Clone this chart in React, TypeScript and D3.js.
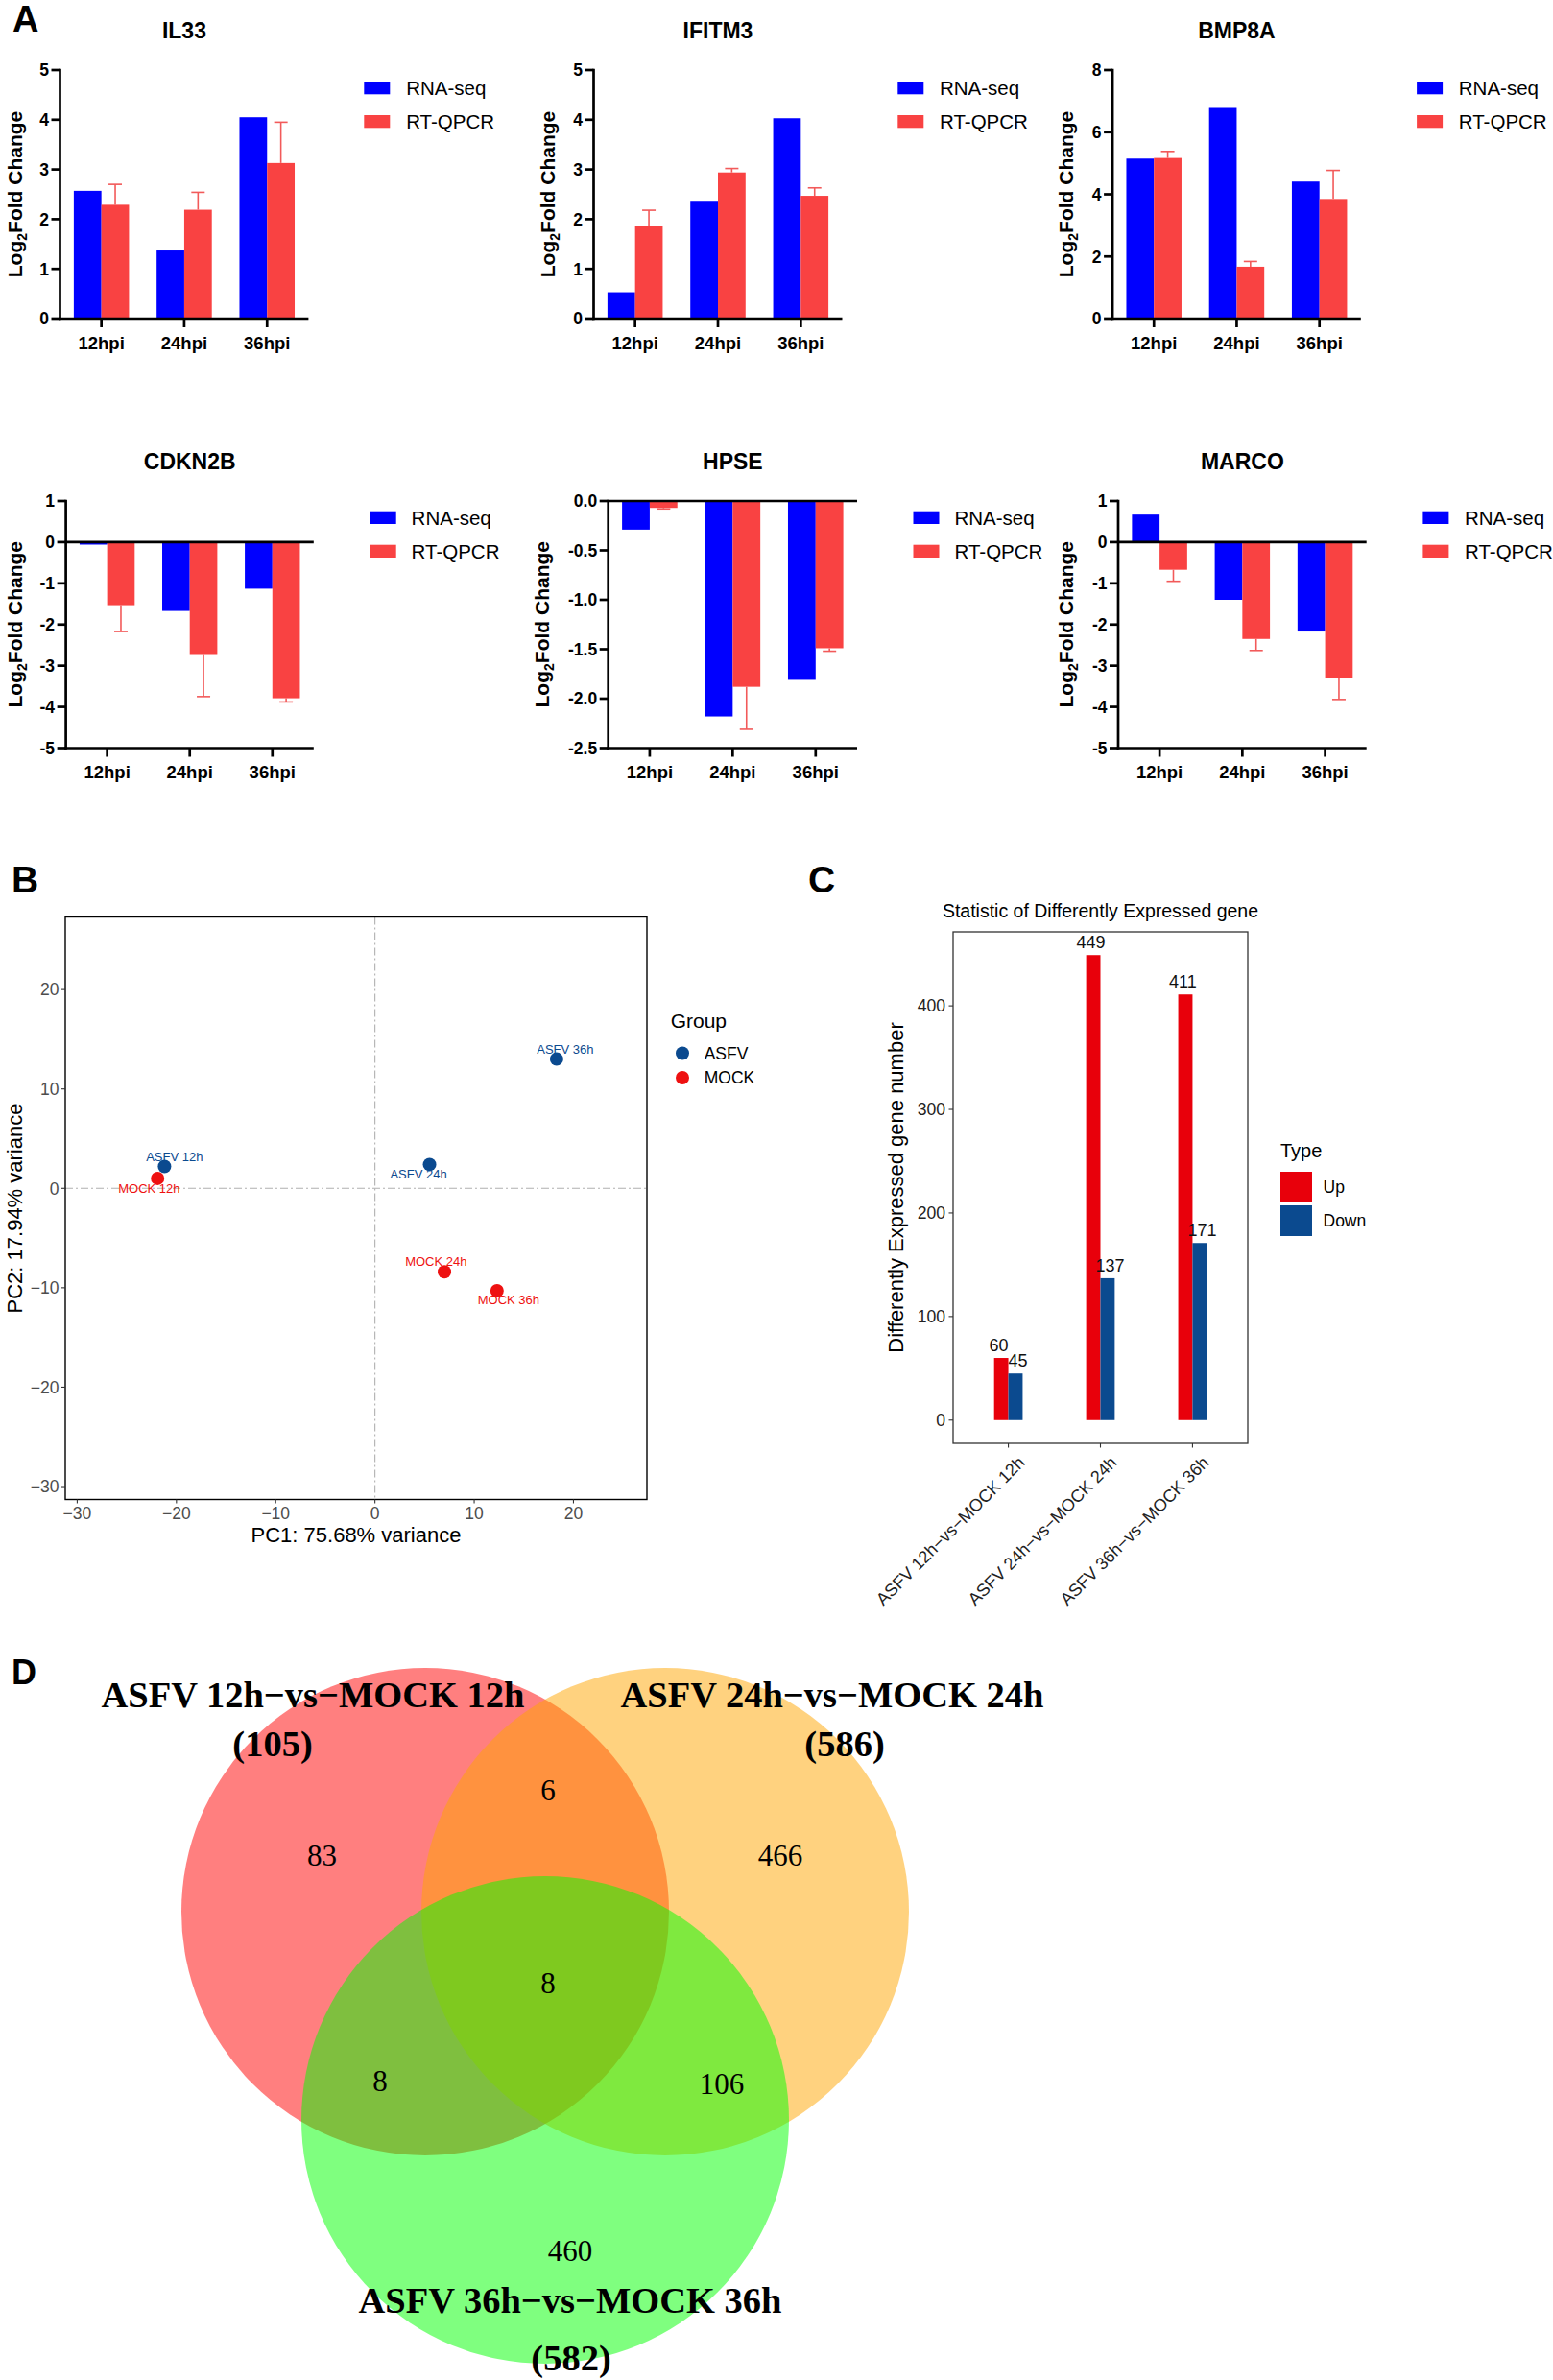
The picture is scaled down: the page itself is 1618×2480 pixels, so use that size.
import React from "react";
import * as d3 from "d3";

const SANS = "'Liberation Sans', Arial, Helvetica, sans-serif";
const SERIF = "'Liberation Serif', 'Times New Roman', serif";

// ---------------- Panel A data ----------------
const timepoints = ["12hpi", "24hpi", "36hpi"];
const methods = ["RNA-seq", "RT-QPCR"];

const il33RnaSeq = [2.57, 1.37, 4.05];
const il33Qpcr = [2.29, 2.19, 3.13];
const il33QpcrErr = [0.41, 0.35, 0.82];

const ifitm3RnaSeq = [0.53, 2.37, 4.03];
const ifitm3Qpcr = [1.86, 2.94, 2.47];
const ifitm3QpcrErr = [0.32, 0.08, 0.16];

const bmp8aRnaSeq = [5.15, 6.78, 4.41];
const bmp8aQpcr = [5.17, 1.67, 3.85];
const bmp8aQpcrErr = [0.21, 0.17, 0.92];

const cdkn2bRnaSeq = [-0.06, -1.67, -1.13];
const cdkn2bQpcr = [-1.53, -2.74, -3.79];
const cdkn2bQpcrErr = [0.64, 1.01, 0.09];

const hpseRnaSeq = [-0.29, -2.18, -1.81];
const hpseQpcr = [-0.07, -1.88, -1.49];
const hpseQpcrErr = [0.01, 0.43, 0.03];

const marcoRnaSeq = [0.67, -1.4, -2.17];
const marcoQpcr = [-0.67, -2.35, -3.31];
const marcoQpcrErr = [0.28, 0.28, 0.51];

const yDomainUp5 = [0, 5];
const yDomainUp8 = [0, 8];
const yDomainNeg5 = [-5, 1];
const yDomainHpse = [-2.5, 0];
const yTicksUp5 = [0, 1, 2, 3, 4, 5];
const yTicksUp8 = [0, 2, 4, 6, 8];
const yTicksNeg5 = [-5, -4, -3, -2, -1, 0, 1];
const yTicksHpse = [-2.5, -2, -1.5, -1, -0.5, 0];

const geneSeries = [
  { gene: "IL33", rna: il33RnaSeq, qpcr: il33Qpcr, err: il33QpcrErr, domain: yDomainUp5, ticks: yTicksUp5, decimals: 0 },
  { gene: "IFITM3", rna: ifitm3RnaSeq, qpcr: ifitm3Qpcr, err: ifitm3QpcrErr, domain: yDomainUp5, ticks: yTicksUp5, decimals: 0 },
  { gene: "BMP8A", rna: bmp8aRnaSeq, qpcr: bmp8aQpcr, err: bmp8aQpcrErr, domain: yDomainUp8, ticks: yTicksUp8, decimals: 0 },
  { gene: "CDKN2B", rna: cdkn2bRnaSeq, qpcr: cdkn2bQpcr, err: cdkn2bQpcrErr, domain: yDomainNeg5, ticks: yTicksNeg5, decimals: 0 },
  { gene: "HPSE", rna: hpseRnaSeq, qpcr: hpseQpcr, err: hpseQpcrErr, domain: yDomainHpse, ticks: yTicksHpse, decimals: 1 },
  { gene: "MARCO", rna: marcoRnaSeq, qpcr: marcoQpcr, err: marcoQpcrErr, domain: yDomainNeg5, ticks: yTicksNeg5, decimals: 0 },
];

// layout (positions only)
const geneLayout = [
  { x0: 62.5, x1: 321.4, yTop: 73, yBot: 332, ylabX: 23, legX: 379.3, legTextX: 423.2, legY: 85 },
  { x0: 618.5, x1: 877.5, yTop: 73, yBot: 332, ylabX: 577.5, legX: 935.3, legTextX: 979, legY: 85 },
  { x0: 1159.1, x1: 1417.8, yTop: 73, yBot: 332, ylabX: 1118, legX: 1476.1, legTextX: 1519.8, legY: 85 },
  { x0: 68.6, x1: 326.8, yTop: 522, yBot: 779.5, ylabX: 23, legX: 385.7, legTextX: 428.6, legY: 532.7 },
  { x0: 633.7, x1: 893, yTop: 522, yBot: 779.5, ylabX: 572, legX: 951.5, legTextX: 994.5, legY: 532.7 },
  { x0: 1165, x1: 1423.7, yTop: 522, yBot: 779.5, ylabX: 1118, legX: 1482.4, legTextX: 1526, legY: 532.7 },
];

const BLUE = "#0000FF";
const RED = "#F94242";
const ERR = "#F25A5A";

// ---------------- Panel B data ----------------
const pcaSamples = ["ASFV 12h", "MOCK 12h", "ASFV 24h", "MOCK 24h", "ASFV 36h", "MOCK 36h"];
const pcaGroups = ["ASFV", "MOCK", "ASFV", "MOCK", "ASFV", "MOCK"];
const pc1Values = [-21.2, -21.9, 5.5, 7.0, 18.3, 12.3];
const pc2Values = [2.2, 1.0, 2.4, -8.4, 13.0, -10.3];
const pcaGroupNames = ["ASFV", "MOCK"];
const pcaXDomain = [-31.2, 27.4];
const pcaYDomain = [-31.3, 27.3];
const pcaTicks = [-30, -20, -10, 0, 10, 20];
const pcaLabelOffsets = [
  [10.4, -5.3],
  [-8.8, 15.5],
  [-11.5, 15],
  [-8.7, -6.3],
  [9, -6],
  [12, 14.5],
];
const ASFV_COL = "#0B4A8F";
const MOCK_COL = "#EE1111";

// ---------------- Panel C data ----------------
const degComparisons = ["ASFV 12h\u2212vs\u2212MOCK 12h", "ASFV 24h\u2212vs\u2212MOCK 24h", "ASFV 36h\u2212vs\u2212MOCK 36h"];
const degTypes = ["Up", "Down"];
const degUp = [60, 449, 411];
const degDown = [45, 137, 171];
const degTicks = [0, 100, 200, 300, 400];
const UP_COL = "#E8000B";
const DOWN_COL = "#0B4A8F";

// ---------------- Panel D data ----------------
const vennSetNames = ["ASFV 12h\u2212vs\u2212MOCK 12h", "ASFV 24h\u2212vs\u2212MOCK 24h", "ASFV 36h\u2212vs\u2212MOCK 36h"];
const vennTotals = [105, 586, 582];
// regions: only12, only24, only36, 12&24, 12&36, 24&36, all
const vennRegionCounts = [83, 466, 460, 6, 8, 106, 8];
const vennColors = ["#FF0000", "#FFA500", "#00FF00"];

const vennCircles = [
  { cx: 443, cy: 1992 },
  { cx: 693, cy: 1992 },
  { cx: 568, cy: 2209 },
];
const vennR = 254;
const vennRegionPos = [
  [335.6, 1944],
  [813, 1944],
  [594, 2356],
  [571, 1876],
  [396, 2179],
  [752, 2182],
  [571, 2077],
];
const vennTitlePos = [
  { x: 326, y: 1778.5, cx: 284, cy: 1830 },
  { x: 867, y: 1778.5, cx: 880, cy: 1830 },
  { x: 594, y: 2410, cx: 595, cy: 2470 },
];

// ---------------- Components ----------------
function GeneChart({ spec, lay }: any) {
  const { x0, x1, yTop, yBot, ylabX, legX, legTextX, legY } = lay;
  const x = d3.scaleBand().domain(timepoints).range([x0, x1]).paddingInner(0).paddingOuter(0);
  const bw = x.bandwidth();
  const inner = d3.scaleBand().domain(methods).range([bw / 6, bw - bw / 6]);
  const y = d3.scaleLinear().domain(spec.domain).range([yBot, yTop]);
  const y0 = y(0);
  const sw = 2.7;
  const negative = spec.domain[0] < 0;
  const seriesVals = [spec.rna, spec.qpcr];
  const colors = [BLUE, RED];
  const cap = 14;
  return (
    <g>
      <text x={(x0 + x1) / 2} y={yTop - 33} textAnchor="middle" fontFamily={SANS} fontWeight="bold" fontSize={23}>
        {spec.gene}
      </text>
      {seriesVals.map((vals: number[], si: number) =>
        vals.map((v: number, i: number) => {
          const bx = (x(timepoints[i]) as number) + (inner(methods[si]) as number);
          const yv = y(v);
          return (
            <rect
              key={`b${si}-${i}`}
              x={bx}
              y={Math.min(yv, y0)}
              width={inner.bandwidth()}
              height={Math.abs(yv - y0)}
              fill={colors[si]}
            />
          );
        })
      )}
      {spec.qpcr.map((v: number, i: number) => {
        const cx = (x(timepoints[i]) as number) + (inner(methods[1]) as number) + inner.bandwidth() / 2;
        const sign = v >= 0 ? 1 : -1;
        const ye = y(v + sign * spec.err[i]);
        return (
          <g key={`e${i}`} stroke={ERR} strokeWidth={1.6}>
            <line x1={cx} x2={cx} y1={y(v)} y2={ye} />
            <line x1={cx - cap / 2} x2={cx + cap / 2} y1={ye} y2={ye} />
          </g>
        );
      })}
      {/* y axis */}
      <line x1={x0} x2={x0} y1={yTop - sw / 2} y2={yBot + sw / 2} stroke="#000" strokeWidth={sw} />
      {spec.ticks.map((t: number) => (
        <g key={`yt${t}`}>
          <line x1={x0 - 9} x2={x0} y1={y(t)} y2={y(t)} stroke="#000" strokeWidth={sw} />
          <text
            x={x0 - 11.5}
            y={y(t)}
            dy="0.36em"
            textAnchor="end"
            fontFamily={SANS}
            fontWeight="bold"
            fontSize={17.5}
          >
            {t.toFixed(spec.decimals)}
          </text>
        </g>
      ))}
      {/* x axis */}
      <line x1={x0 - sw / 2} x2={x1} y1={yBot} y2={yBot} stroke="#000" strokeWidth={sw} />
      {negative && <line x1={x0} x2={x1} y1={y0} y2={y0} stroke="#000" strokeWidth={sw} />}
      {timepoints.map((tp) => {
        const cx = (x(tp) as number) + bw / 2;
        return (
          <g key={`xt${tp}`}>
            <line x1={cx} x2={cx} y1={yBot} y2={yBot + 9} stroke="#000" strokeWidth={sw} />
            <text x={cx} y={yBot + 31.5} textAnchor="middle" fontFamily={SANS} fontWeight="bold" fontSize={18.5}>
              {tp}
            </text>
          </g>
        );
      })}
      {/* y label */}
      <text
        transform={`translate(${ylabX},${(yTop + yBot) / 2}) rotate(-90)`}
        textAnchor="middle"
        fontFamily={SANS}
        fontWeight="bold"
        fontSize={21}
      >
        Log
        <tspan dy={5} fontSize={14}>
          2
        </tspan>
        <tspan dy={-5}>Fold Change</tspan>
      </text>
      {/* legend */}
      {methods.map((m, i) => (
        <g key={`lg${m}`}>
          <rect x={legX} y={legY + i * 35} width={27} height={13.3} fill={colors[i]} />
          <text x={legTextX} y={legY + 14 + i * 35} fontFamily={SANS} fontSize={20.5}>
            {m}
          </text>
        </g>
      ))}
    </g>
  );
}

function PcaPanel() {
  const f = { l: 68, r: 674, t: 955.5, b: 1562.5 };
  const x = d3.scaleLinear().domain(pcaXDomain).range([f.l, f.r]);
  const y = d3.scaleLinear().domain(pcaYDomain).range([f.b, f.t]);
  const fmt = d3.format("d");
  const colorOf = (g: string) => (g === "ASFV" ? ASFV_COL : MOCK_COL);
  return (
    <g fontFamily={SANS}>
      <text x={12} y={930} fontFamily={SANS} fontWeight="bold" fontSize={39}>
        B
      </text>
      <line x1={x(0)} x2={x(0)} y1={f.t} y2={f.b} stroke="#B0B0B0" strokeWidth={1.1} strokeDasharray="8,3,2,3" />
      <line x1={f.l} x2={f.r} y1={y(0)} y2={y(0)} stroke="#B0B0B0" strokeWidth={1.1} strokeDasharray="8,3,2,3" />
      {pcaSamples.map((s, i) => (
        <circle key={`p${s}`} cx={x(pc1Values[i])} cy={y(pc2Values[i])} r={7} fill={colorOf(pcaGroups[i])} />
      ))}
      {pcaSamples.map((s, i) => (
        <text
          key={`pl${s}`}
          x={x(pc1Values[i]) + pcaLabelOffsets[i][0]}
          y={y(pc2Values[i]) + pcaLabelOffsets[i][1]}
          textAnchor="middle"
          fontSize={13}
          fill={colorOf(pcaGroups[i])}
        >
          {s}
        </text>
      ))}
      <rect x={f.l} y={f.t} width={f.r - f.l} height={f.b - f.t} fill="none" stroke="#000" strokeWidth={1.4} />
      {pcaTicks.map((t) => (
        <g key={`bx${t}`}>
          <line x1={x(t)} x2={x(t)} y1={f.b} y2={f.b + 4} stroke="#333" strokeWidth={1.1} />
          <text x={x(t)} y={1583} textAnchor="middle" fontSize={17.5} fill="#4D4D4D">
            {fmt(t)}
          </text>
          <line x1={f.l - 4} x2={f.l} y1={y(t)} y2={y(t)} stroke="#333" strokeWidth={1.1} />
          <text x={f.l - 6.5} y={y(t)} dy="0.36em" textAnchor="end" fontSize={17.5} fill="#4D4D4D">
            {fmt(t)}
          </text>
        </g>
      ))}
      <text x={(f.l + f.r) / 2} y={1607} textAnchor="middle" fontSize={22}>
        PC1: 75.68% variance
      </text>
      <text transform={`translate(23,${(f.t + f.b) / 2}) rotate(-90)`} textAnchor="middle" fontSize={22}>
        PC2: 17.94% variance
      </text>
      <text x={698.7} y={1071} fontSize={21}>
        Group
      </text>
      {pcaGroupNames.map((g, i) => (
        <g key={`bl${g}`}>
          <circle cx={711} cy={1097.5 + i * 25.5} r={7} fill={colorOf(g)} />
          <text x={733.7} y={1097.5 + i * 25.5} dy="0.36em" fontSize={17.5}>
            {g}
          </text>
        </g>
      ))}
    </g>
  );
}

function DegPanel() {
  const f = { l: 993, r: 1300, t: 971, b: 1504 };
  const maxV = d3.max(degUp.concat(degDown)) as number;
  const x = d3.scalePoint().domain(degComparisons).range([f.l, f.r]).padding(0.6);
  const y = d3.scaleLinear().domain([-0.05 * maxV, maxV * 1.05]).range([f.b, f.t]);
  const step = x.step();
  const bw = step * 0.155;
  const series = [degUp, degDown];
  const cols = [UP_COL, DOWN_COL];
  return (
    <g fontFamily={SANS}>
      <text x={842} y={930} fontWeight="bold" fontSize={39}>
        C
      </text>
      <text x={(f.l + f.r) / 2} y={956} textAnchor="middle" fontSize={19.5}>
        Statistic of Differently Expressed gene
      </text>
      {series.map((vals, si) =>
        vals.map((v, i) => {
          const cx = x(degComparisons[i]) as number;
          return (
            <rect
              key={`db${si}-${i}`}
              x={si === 0 ? cx - bw : cx}
              y={y(v)}
              width={bw}
              height={y(0) - y(v)}
              fill={cols[si]}
            />
          );
        })
      )}
      {series.map((vals, si) =>
        vals.map((v, i) => {
          const cx = x(degComparisons[i]) as number;
          return (
            <text
              key={`dl${si}-${i}`}
              x={cx + (si === 0 ? -1 : 1) * step * 0.104}
              y={y(v) - 7}
              textAnchor="middle"
              fontSize={18}
              fill="#111"
            >
              {v}
            </text>
          );
        })
      )}
      <rect x={f.l} y={f.t} width={f.r - f.l} height={f.b - f.t} fill="none" stroke="#333" strokeWidth={1.3} />
      {degTicks.map((t) => (
        <g key={`dt${t}`}>
          <line x1={f.l - 4.5} x2={f.l} y1={y(t)} y2={y(t)} stroke="#333" strokeWidth={1.1} />
          <text x={f.l - 8} y={y(t)} dy="0.36em" textAnchor="end" fontSize={17.6} fill="#222">
            {t}
          </text>
        </g>
      ))}
      {degComparisons.map((c) => {
        const cx = x(c) as number;
        return (
          <g key={`dx${c}`}>
            <line x1={cx} x2={cx} y1={f.b} y2={f.b + 4.5} stroke="#333" strokeWidth={1.1} />
            <text
              transform={`translate(${cx + 9},${f.b + 12}) rotate(-45)`}
              dy="0.72em"
              textAnchor="end"
              fontSize={18}
              fill="#222"
            >
              {c}
            </text>
          </g>
        );
      })}
      <text transform={`translate(941,${(f.t + f.b) / 2}) rotate(-90)`} textAnchor="middle" fontSize={22}>
        Differently Expressed gene number
      </text>
      <text x={1334} y={1206} fontSize={20}>
        Type
      </text>
      {degTypes.map((t, i) => (
        <g key={`dlg${t}`}>
          <rect x={1334} y={1221 + i * 35} width={33} height={32} fill={cols[i]} />
          <text x={1378.5} y={1237 + i * 35} dy="0.36em" fontSize={17.5}>
            {t}
          </text>
        </g>
      ))}
    </g>
  );
}

function VennPanel() {
  return (
    <g>
      <text x={12} y={1755} fontFamily={SANS} fontWeight="bold" fontSize={36}>
        D
      </text>
      {vennCircles.map((c, i) => (
        <circle key={`vc${i}`} cx={c.cx} cy={c.cy} r={vennR} fill={vennColors[i]} fillOpacity={0.5} />
      ))}
      {vennRegionCounts.map((n, i) => (
        <text
          key={`vr${i}`}
          x={vennRegionPos[i][0]}
          y={vennRegionPos[i][1]}
          textAnchor="middle"
          fontFamily={SERIF}
          fontSize={31}
        >
          {n}
        </text>
      ))}
      {vennSetNames.map((s, i) => (
        <g key={`vt${i}`} fontFamily={SERIF} fontWeight="bold" fontSize={38.5} textAnchor="middle">
          <text x={vennTitlePos[i].x} y={vennTitlePos[i].y}>
            {s}
          </text>
          <text x={vennTitlePos[i].cx} y={vennTitlePos[i].cy}>
            ({vennTotals[i]})
          </text>
        </g>
      ))}
    </g>
  );
}

export default function App() {
  return (
    <div style={{ position: "absolute", left: 0, top: 0, width: 1618, height: 2480, background: "#fff" }}>
      <svg width={1618} height={2480} viewBox="0 0 1618 2480" style={{ display: "block" }}>
        <rect x={0} y={0} width={1618} height={2480} fill="#fff" />
        <text x={13} y={33} fontFamily={SANS} fontWeight="bold" fontSize={38}>
          A
        </text>
        {geneSeries.map((spec, i) => (
          <GeneChart key={spec.gene} spec={spec} lay={geneLayout[i]} />
        ))}
        <PcaPanel />
        <DegPanel />
        <VennPanel />
      </svg>
    </div>
  );
}
